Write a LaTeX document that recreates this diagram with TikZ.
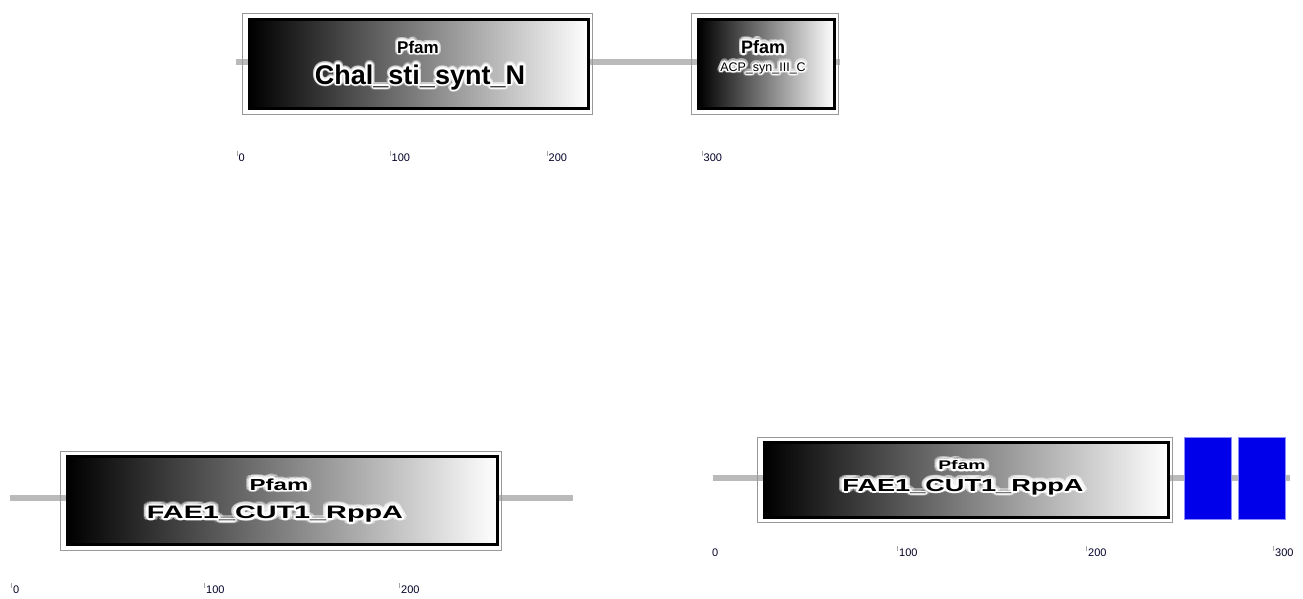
\documentclass[tikz,border=0pt]{standalone}
\usepackage{fontspec}
\setmainfont{Liberation Sans}
\usepackage{contour}
\contournumber{16}
% glow label: name, position, size, xscale, font series, text
\newcommand\glowlab[6]{%
  \node[inner sep=0pt,text opacity=.35,xscale=#4,font=\fontsize{#3}{#3}\selectfont#5] (#1gb) at (#2) {\contourlength{3.2pt}\contour{white}{#6}};
  \node[inner sep=0pt,text=black,xscale=#4,font=\fontsize{#3}{#3}\selectfont#5] (#1) at (#2) {\contourlength{1.4pt}\contour{white}{#6}};
}
\begin{document}
\begin{tikzpicture}[x=1pt,y=-1pt,
  backbone/.style={line width=6pt,draw=black!27},
  dom/.style={draw=black,line width=3.2pt,left color=black,right color=white,inner sep=0pt,anchor=north west},
  frame/.style={draw=black!40,line width=1pt},
  rep/.style={draw=blue!45,line width=0.8pt,fill=blue!92!black,inner sep=0pt,anchor=north west},
  tk/.style={draw=black!35,line width=0.7pt},
  num/.style={font=\fontsize{11}{11}\selectfont,text=black!85!blue,anchor=west,inner sep=0pt}
]
\useasboundingbox (0,0) rectangle (1303,598);

% ---------- top protein ----------
\coordinate (t1) at (236,62);
\coordinate (t2) at (840,62);
\draw[backbone] (t1) -- (t2);
\node[dom,minimum width=339pt,minimum height=89pt] (d1) at (248,18) {};
\draw[frame] ([shift={(-6,-5)}]d1.north west) rectangle ([shift={(2,4)}]d1.south east);
\node[dom,minimum width=136pt,minimum height=89pt] (d2) at (697,18) {};
\draw[frame] ([shift={(-6,-5)}]d2.north west) rectangle ([shift={(2,4)}]d2.south east);
\glowlab{p1}{418,48}{17}{1}{\bfseries}{Pfam}
\glowlab{n1}{420,78}{27}{1}{\bfseries}{Chal\_sti\_synt\_N}
\glowlab{p2}{763,48}{18}{1}{\bfseries}{Pfam}
\glowlab{n2}{763,69}{12.5}{1}{}{ACP\_syn\_III\_C}
% scale
\foreach \x/\l [count=\i] in {237/0,390/100,547/200,702/300}{
  \draw[tk] (\x,151) -- (\x,156);
  \node[num] (ta\i) at (\x+1.5,158) {\l};
}

% ---------- bottom-left protein ----------
\coordinate (l1) at (10,498);
\coordinate (l2) at (573,498);
\draw[backbone] (l1) -- (l2);
\node[dom,minimum width=430pt,minimum height=88pt] (d3) at (66,455) {};
\draw[frame] ([shift={(-6,-4)}]d3.north west) rectangle ([shift={(2,4)}]d3.south east);
\glowlab{p3}{279,485}{16}{1.5}{\bfseries}{Pfam}
\glowlab{n3}{275,515}{18}{1.6}{\bfseries}{FAE1\_CUT1\_RppA}
\foreach \x/\l [count=\i] in {11/0,204/100,399/200}{
  \draw[tk] (\x,583) -- (\x,588);
  \node[num] (tb\i) at (\x+2,590) {\l};
}

% ---------- bottom-right protein ----------
\coordinate (r1) at (713,478);
\coordinate (r2) at (1290,478);
\draw[backbone] (r1) -- (r2);
\node[dom,minimum width=404pt,minimum height=75pt] (d4) at (763,441) {};
\draw[frame] ([shift={(-6,-4)}]d4.north west) rectangle ([shift={(2,3)}]d4.south east);
\glowlab{p4}{962,466}{12.5}{1.55}{\bfseries}{Pfam}
\glowlab{n4}{963,488}{17.5}{1.55}{\bfseries}{FAE1\_CUT1\_RppA}
\node[rep,minimum width=47pt,minimum height=82pt] (b1) at (1184,437) {};
\node[rep,minimum width=47pt,minimum height=82pt] (b2) at (1238,437) {};
\node[num] (tc1) at (712,553) {0};
\foreach \x/\l [count=\i from 2] in {897/100,1086/200,1273/300}{
  \draw[tk] (\x,546) -- (\x,551);
  \node[num] (tc\i) at (\x+2,553) {\l};
}
\end{tikzpicture}
\end{document}
